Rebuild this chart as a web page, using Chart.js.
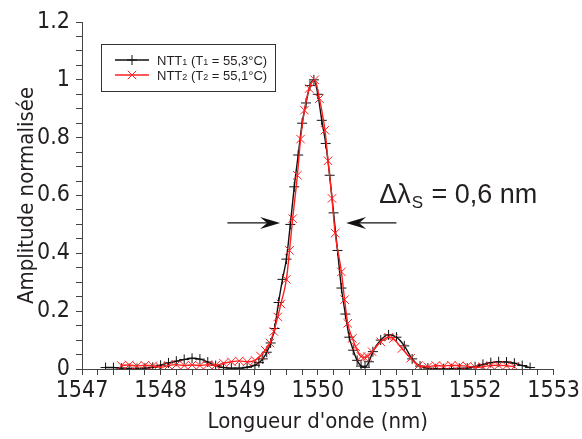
<!DOCTYPE html>
<html>
<head>
<meta charset="utf-8">
<script src="https://cdn.jsdelivr.net/npm/chart.js@4.4.1/dist/chart.umd.min.js"></script>
<style>
  body { margin: 0; background: #fff; }
  #wrap { width: 582px; height: 439px; }
</style>
</head>
<body>
<div id="wrap"><canvas id="spectrum" width="582" height="439"></canvas></div>
<script>
// NTT1 (T1 = 55,3 C)
const ntt1Lambda = [
    1547.3, 1547.4, 1547.5, 1547.6, 1547.7, 1547.8, 1547.9, 1548.0, 1548.1, 1548.2,
    1548.3, 1548.4, 1548.5, 1548.6, 1548.7, 1548.8, 1548.9, 1549.0, 1549.1, 1549.2,
    1549.25, 1549.3, 1549.35, 1549.4, 1549.45, 1549.5, 1549.55, 1549.6, 1549.65, 1549.7,
    1549.75, 1549.8, 1549.85, 1549.9, 1549.95, 1550.0, 1550.05, 1550.1, 1550.15, 1550.2,
    1550.25, 1550.3, 1550.35, 1550.4, 1550.45, 1550.5, 1550.55, 1550.6, 1550.65, 1550.7,
    1550.8, 1550.9, 1551.0, 1551.1, 1551.2, 1551.3, 1551.4, 1551.5, 1551.6, 1551.7,
    1551.8, 1551.9, 1552.0, 1552.1, 1552.2, 1552.3, 1552.4, 1552.5, 1552.6, 1552.7
];
const ntt1Amp = [
    0.005, 0.005, 0.003, 0.002, 0.002, 0.003, 0.006, 0.013, 0.021, 0.027,
    0.033, 0.037, 0.034, 0.024, 0.012, 0.005, 0.003, 0.003, 0.006, 0.013,
    0.022, 0.035, 0.058, 0.09, 0.14, 0.23, 0.31, 0.38, 0.5, 0.63,
    0.74, 0.85, 0.92, 0.98, 1.0, 0.95, 0.86, 0.78, 0.67, 0.54,
    0.41, 0.28, 0.19, 0.11, 0.065, 0.03, 0.01, 0.006, 0.025, 0.06,
    0.1, 0.118, 0.11, 0.08, 0.035, 0.01, 0.003, 0.001, 0.001, 0.001,
    0.002, 0.003, 0.008, 0.016, 0.022, 0.025, 0.024, 0.02, 0.012, 0.005
];

// NTT2 (T2 = 55,1 C)
const ntt2Lambda = [
    1547.5, 1547.6, 1547.7, 1547.8, 1547.9, 1548.0, 1548.1, 1548.2, 1548.3, 1548.4,
    1548.5, 1548.6, 1548.7, 1548.8, 1548.9, 1549.0, 1549.1, 1549.2, 1549.27, 1549.33,
    1549.39, 1549.44, 1549.49, 1549.53, 1549.6, 1549.64, 1549.68, 1549.74, 1549.78, 1549.83,
    1549.89, 1549.96, 1550.02, 1550.09, 1550.13, 1550.18, 1550.22, 1550.3, 1550.34, 1550.38,
    1550.44, 1550.48, 1550.55, 1550.59, 1550.63, 1550.69, 1550.8, 1550.9, 1550.96, 1551.07,
    1551.18, 1551.28, 1551.4, 1551.5, 1551.6, 1551.7, 1551.8, 1551.9, 1552.0, 1552.1,
    1552.2, 1552.3, 1552.4, 1552.5
];
const ntt2Amp = [
    0.012, 0.014, 0.01, 0.013, 0.011, 0.006, 0.012, 0.015, 0.012, 0.014,
    0.012, 0.015, 0.013, 0.02, 0.025, 0.028, 0.025, 0.03, 0.045, 0.065,
    0.09, 0.13, 0.18, 0.225, 0.31, 0.41, 0.52, 0.67, 0.795, 0.895,
    0.97, 1.0, 0.935, 0.826, 0.72, 0.59, 0.47, 0.336, 0.24, 0.158,
    0.106, 0.077, 0.043, 0.04, 0.043, 0.06, 0.094, 0.11, 0.105, 0.071,
    0.037, 0.012, 0.008, 0.012, 0.01, 0.013, 0.011, 0.01, 0.006, 0.008,
    0.012, 0.013, 0.011, 0.008
];

// FWHM annotation (data units)
const fwhmLevel = 0.505;
const fwhmArrowLeft = [1548.85, 1549.52];
const fwhmArrowRight = [1551.0, 1550.36];
const fwhmLabelPos = [1550.78, 0.574];

const axisFont = '"Liberation Sans Narrow", "DejaVu Sans Condensed", "Liberation Sans", sans-serif';
const textColor = '#231f20';

function toPoints(xs, ys) {
    return xs.map((x, i) => ({ x: x, y: ys[i] }));
}

function drawArrow(ctx, x0, x1, y) {
    const dir = Math.sign(x1 - x0);
    ctx.beginPath();
    ctx.moveTo(x0, y);
    ctx.lineTo(x1 - dir * 12, y);
    ctx.stroke();
    ctx.beginPath();
    ctx.moveTo(x1, y);
    ctx.lineTo(x1 - dir * 20, y - 6);
    ctx.lineTo(x1 - dir * 13, y);
    ctx.lineTo(x1 - dir * 20, y + 6);
    ctx.closePath();
    ctx.fill();
}

// legend box + delta-lambda annotation
const overlayPlugin = {
    id: 'overlay',
    afterDraw(chart) {
        const ctx = chart.ctx;
        const xs = chart.scales.x;
        const ys = chart.scales.y;
        ctx.save();

        // Legend
        ctx.strokeStyle = '#333';
        ctx.lineWidth = 1;
        ctx.strokeRect(101.5, 44.5, 174, 47);
        const rows = [
            { color: '#111', style: 'cross', r: 5, sub: '1', t: '55,3' },
            { color: '#ff1f1f', style: 'crossRot', r: 6, sub: '2', t: '55,1' }
        ];
        rows.forEach((row, i) => {
            const y = 60 + i * 15;
            ctx.strokeStyle = row.color;
            ctx.lineWidth = 1.3;
            ctx.beginPath();
            ctx.moveTo(115, y);
            ctx.lineTo(149, y);
            ctx.stroke();
            ctx.lineWidth = 1;
            Chart.helpers.drawPoint(ctx, { pointStyle: row.style, radius: row.r, borderWidth: 1 }, 132, y);

            ctx.fillStyle = textColor;
            ctx.textBaseline = 'alphabetic';
            ctx.textAlign = 'left';
            let x = 157;
            const big = '13px "Liberation Sans", Arial, sans-serif';
            const small = '9px "Liberation Sans", Arial, sans-serif';
            const parts = [
                ['NTT', big], [row.sub, small], [' (T', big], [row.sub, small],
                [' = ' + row.t + '\u00b0C)', big]
            ];
            parts.forEach(([s, f]) => {
                ctx.font = f;
                ctx.fillText(s, x, y + 4.5);
                x += ctx.measureText(s).width;
            });
        });

        // Arrows
        const ay = ys.getPixelForValue(fwhmLevel);
        ctx.strokeStyle = '#111';
        ctx.fillStyle = '#111';
        ctx.lineWidth = 1.2;
        drawArrow(ctx, xs.getPixelForValue(fwhmArrowLeft[0]), xs.getPixelForValue(fwhmArrowLeft[1]), ay);
        drawArrow(ctx, xs.getPixelForValue(fwhmArrowRight[0]), xs.getPixelForValue(fwhmArrowRight[1]), ay);

        // Label
        let lx = xs.getPixelForValue(fwhmLabelPos[0]);
        const ly = ys.getPixelForValue(fwhmLabelPos[1]);
        ctx.fillStyle = textColor;
        ctx.font = '27px "Liberation Sans", Arial, sans-serif';
        ctx.fillText('\u0394\u03bb', lx, ly);
        lx += ctx.measureText('\u0394\u03bb').width;
        ctx.font = '17px "Liberation Sans", Arial, sans-serif';
        ctx.fillText('S', lx + 1, ly + 5);
        lx += ctx.measureText('S').width + 2;
        ctx.font = '27px "Liberation Sans", Arial, sans-serif';
        ctx.fillText(' = 0,6 nm', lx, ly);

        ctx.restore();
    }
};

new Chart(document.getElementById('spectrum'), {
    type: 'line',
    data: {
        datasets: [
            {
                label: 'NTT1 (T1 = 55,3\u00b0C)',
                data: toPoints(ntt1Lambda, ntt1Amp),
                borderColor: '#111',
                borderWidth: 1.4,
                pointStyle: 'cross',
                pointRadius: 5,
                pointBorderWidth: 1,
                pointBorderColor: '#111',
                cubicInterpolationMode: 'monotone',
                order: 2
            },
            {
                label: 'NTT2 (T2 = 55,1\u00b0C)',
                data: toPoints(ntt2Lambda, ntt2Amp),
                borderColor: '#ff1f1f',
                borderWidth: 1.4,
                pointStyle: 'crossRot',
                pointRadius: 6,
                pointBorderWidth: 1,
                pointBorderColor: '#ff1f1f',
                cubicInterpolationMode: 'monotone',
                order: 1
            }
        ]
    },
    options: {
        responsive: false,
        animation: false,
        layout: { padding: { top: 22, right: 22, left: 0, bottom: 0 } },
        plugins: {
            legend: { display: false },
            tooltip: { enabled: false }
        },
        scales: {
            x: {
                type: 'linear',
                min: 1547,
                max: 1553,
                afterFit: (scale) => { scale.height = 70; },
                border: { color: '#444', width: 1 },
                grid: { drawOnChartArea: false, tickLength: 6, color: '#444' },
                ticks: {
                    stepSize: 0.2,
                    autoSkip: false,
                    maxRotation: 0,
                    padding: 2,
                    color: textColor,
                    font: { family: axisFont, size: 23 },
                    callback: (v) => Math.abs(v - Math.round(v)) < 1e-6 ? String(Math.round(v)) : ''
                },
                title: {
                    display: true,
                    text: "Longueur d'onde (nm)",
                    color: textColor,
                    font: { family: axisFont, size: 22 },
                    padding: { top: 0, bottom: 4 }
                }
            },
            y: {
                min: 0,
                max: 1.2,
                afterFit: (scale) => { scale.width = 82; },
                border: { color: '#444', width: 1 },
                grid: { drawOnChartArea: false, tickLength: 6, color: '#444' },
                ticks: {
                    stepSize: 0.05,
                    autoSkip: false,
                    padding: 6,
                    color: textColor,
                    font: { family: axisFont, size: 23 },
                    callback: (v) => {
                        const k = Math.round(v * 5);
                        return Math.abs(v * 5 - k) < 1e-6 ? String(k / 5) : '';
                    }
                },
                title: {
                    display: true,
                    text: 'Amplitude normalis\u00e9e',
                    color: textColor,
                    font: { family: axisFont, size: 22 },
                    padding: { top: 14, bottom: 0 }
                }
            }
        }
    },
    plugins: [overlayPlugin]
});
</script>
</body>
</html>
